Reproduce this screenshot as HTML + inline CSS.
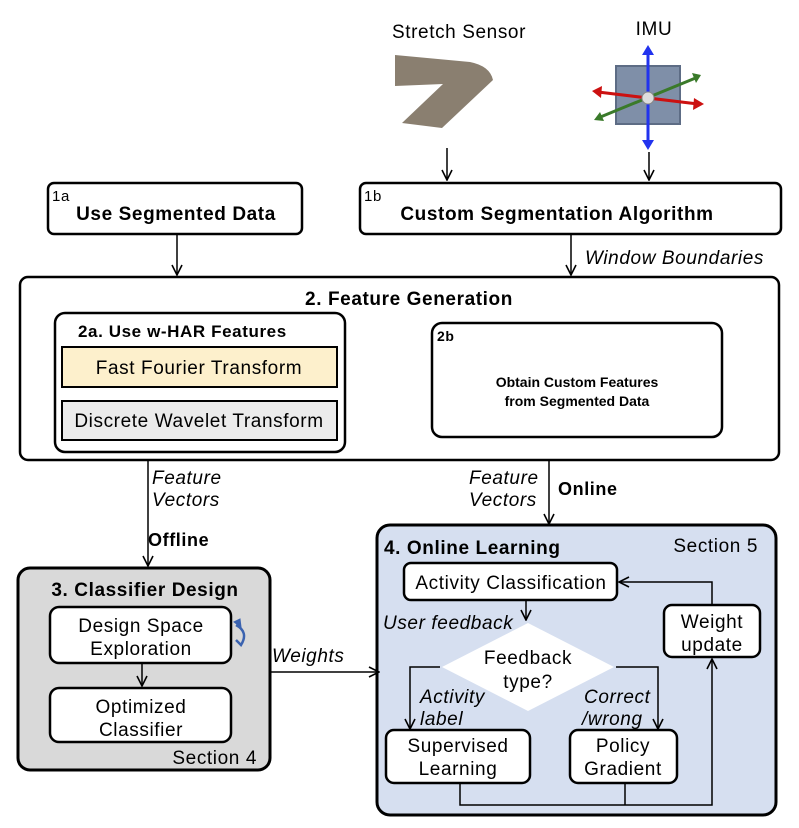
<!DOCTYPE html>
<html><head><meta charset="utf-8"><style>
html,body{margin:0;padding:0;background:#fff;}
svg{display:block;font-family:"Liberation Sans",Arial,sans-serif;}
svg text{letter-spacing:0.6px;}
</style></head><body>
<svg width="799" height="828" viewBox="0 0 799 828" xmlns="http://www.w3.org/2000/svg">
<defs>
<marker id="ah" viewBox="0 0 12 12" refX="11" refY="6" markerWidth="12" markerHeight="12" markerUnits="userSpaceOnUse" orient="auto">
<path d="M1,1 L11,6 L1,11" fill="none" stroke="#000" stroke-width="1.6"/>
</marker>
</defs>
<g fill="none" stroke="#000" stroke-width="1.5">
<!-- sensor images -->
<text x="459" y="38" font-size="19" text-anchor="middle" fill="#000" stroke="none">Stretch Sensor</text>
<path d="M395,55 L470,62 Q490,66 493,80 L442,128 L402,123 L443,84 L395,86 Z" fill="#8a7f70" stroke="none"/>
<text x="654" y="35" font-size="19" text-anchor="middle" fill="#000" stroke="none">IMU</text>
<rect x="616" y="66" width="64" height="58" fill="#7f8fa8" stroke="#5d6c85" stroke-width="2"/>
<line x1="648" y1="50" x2="648" y2="145" stroke="#2233ee" stroke-width="3"/>
<path d="M642,55 L648,45 L654,55 Z M642,140 L648,150 L654,140 Z" fill="#2233ee" stroke="none"/>
<line x1="598" y1="92" x2="698" y2="104" stroke="#cc1111" stroke-width="3"/>
<path d="M602,86 L592,91 L601,98 Z M694,98 L704,104 L693,110 Z" fill="#cc1111" stroke="none"/>
<line x1="598" y1="118" x2="698" y2="77" stroke="#3a7a2a" stroke-width="3"/>
<path d="M600,112 L594,120 L604,121 Z M692,73 L701,75 L696,83 Z" fill="#3a7a2a" stroke="none"/>
<circle cx="648" cy="98" r="6" fill="#ddd" stroke="#888" stroke-width="1"/>
<line x1="447" y1="148" x2="447" y2="180" marker-end="url(#ah)"/>
<line x1="649" y1="152" x2="649" y2="180" marker-end="url(#ah)"/>

<!-- 1a, 1b -->
<rect x="48" y="183" width="254" height="51" rx="6" stroke-width="2.5" fill="#fff"/>
<text x="52" y="201" font-size="15" fill="#000" stroke="none">1a</text>
<text x="176" y="220" font-size="19" font-weight="bold" text-anchor="middle" fill="#000" stroke="none">Use Segmented Data</text>
<rect x="360" y="183" width="421" height="51" rx="6" stroke-width="2.5" fill="#fff"/>
<text x="364" y="201" font-size="15" fill="#000" stroke="none">1b</text>
<text x="557" y="220" font-size="19" font-weight="bold" text-anchor="middle" fill="#000" stroke="none">Custom Segmentation Algorithm</text>
<line x1="177" y1="234" x2="177" y2="275" marker-end="url(#ah)"/>
<line x1="571" y1="234" x2="571" y2="275" marker-end="url(#ah)"/>
<text x="585" y="264" font-size="19" font-style="italic" fill="#000" stroke="none">Window Boundaries</text>

<!-- 2 -->
<rect x="20" y="277" width="759" height="183" rx="8" stroke-width="2.5" fill="#fff"/>
<text x="409" y="305" font-size="19" font-weight="bold" text-anchor="middle" fill="#000" stroke="none">2. Feature Generation</text>
<rect x="55" y="313" width="290" height="139" rx="10" stroke-width="2.5" fill="#fff"/>
<text x="78" y="337" font-size="17" font-weight="bold" fill="#000" stroke="none">2a. Use w-HAR Features</text>
<rect x="62" y="347" width="275" height="40" fill="#fdf0cc" stroke-width="2"/>
<text x="199" y="374" font-size="19" text-anchor="middle" fill="#000" stroke="none">Fast Fourier Transform</text>
<rect x="62" y="401" width="275" height="39" fill="#ebebeb" stroke-width="2"/>
<text x="199" y="427" font-size="19" text-anchor="middle" fill="#000" stroke="none">Discrete Wavelet Transform</text>
<rect x="432" y="323" width="290" height="114" rx="10" stroke-width="2.5" fill="#fff"/>
<text x="437" y="341" font-size="14" font-weight="bold" fill="#000" stroke="none">2b</text>
<text x="577" y="387" font-size="14" font-weight="bold" text-anchor="middle" fill="#000" stroke="none" style="letter-spacing:0">Obtain Custom Features</text>
<text x="577" y="406" font-size="14" font-weight="bold" text-anchor="middle" fill="#000" stroke="none" style="letter-spacing:0">from Segmented Data</text>

<!-- connectors -->
<line x1="148" y1="460" x2="148" y2="566" marker-end="url(#ah)"/>
<text x="152" y="484" font-size="19" font-style="italic" fill="#000" stroke="none">Feature</text>
<text x="152" y="506" font-size="19" font-style="italic" fill="#000" stroke="none">Vectors</text>
<text x="148" y="546" font-size="18" font-weight="bold" fill="#000" stroke="none">Offline</text>
<line x1="549" y1="460" x2="549" y2="524" marker-end="url(#ah)"/>
<text x="469" y="484" font-size="19" font-style="italic" fill="#000" stroke="none">Feature</text>
<text x="469" y="506" font-size="19" font-style="italic" fill="#000" stroke="none">Vectors</text>
<text x="558" y="495" font-size="18" font-weight="bold" fill="#000" stroke="none">Online</text>

<!-- 3 -->
<rect x="18" y="568" width="252" height="202" rx="12" fill="#d9d9d9" stroke-width="3"/>
<text x="145" y="596" font-size="19" font-weight="bold" text-anchor="middle" fill="#000" stroke="none">3. Classifier Design</text>
<rect x="50" y="607" width="181" height="56" rx="9" fill="#fff" stroke-width="2.5"/>
<text x="141" y="632" font-size="19" text-anchor="middle" fill="#000" stroke="none">Design Space</text>
<text x="141" y="655" font-size="19" text-anchor="middle" fill="#000" stroke="none">Exploration</text>
<line x1="142" y1="663" x2="142" y2="686" marker-end="url(#ah)"/>
<rect x="50" y="688" width="181" height="54" rx="9" fill="#fff" stroke-width="2.5"/>
<text x="141" y="713" font-size="19" text-anchor="middle" fill="#000" stroke="none">Optimized</text>
<text x="141" y="736" font-size="19" text-anchor="middle" fill="#000" stroke="none">Classifier</text>
<text x="257" y="764" font-size="19" text-anchor="end" fill="#000" stroke="none">Section 4</text>
<path d="M236,625 Q249,632 241,645 L236,640" stroke="#3b63b0" stroke-width="2.5"/>
<path d="M234,622 L240,619 L241,627 Z" fill="#3b63b0" stroke="#3b63b0" stroke-width="1"/>

<!-- 4 -->
<rect x="377" y="525" width="399" height="290" rx="13" fill="#d6dff0" stroke-width="3"/>
<line x1="270" y1="672" x2="379" y2="672" marker-end="url(#ah)"/>
<text x="272" y="662" font-size="19" font-style="italic" fill="#000" stroke="none">Weights</text>
<text x="384" y="554" font-size="19" font-weight="bold" fill="#000" stroke="none">4. Online  Learning</text>
<text x="758" y="552" font-size="19" text-anchor="end" fill="#000" stroke="none">Section 5</text>
<rect x="404" y="563" width="213" height="37" rx="7" fill="#fff" stroke-width="2.5"/>
<text x="511" y="589" font-size="19" text-anchor="middle" fill="#000" stroke="none">Activity Classification</text>
<line x1="526" y1="600" x2="526" y2="620" marker-end="url(#ah)"/>
<text x="383" y="629" font-size="19" font-style="italic" fill="#000" stroke="none">User feedback</text>
<polygon points="528,623 614,667 528,711 442,667" fill="#fff" stroke="none"/>
<text x="528" y="664" font-size="19" text-anchor="middle" fill="#000" stroke="none">Feedback</text>
<text x="528" y="688" font-size="19" text-anchor="middle" fill="#000" stroke="none">type?</text>
<polyline points="440,667 410,667 410,729" marker-end="url(#ah)"/>
<polyline points="616,667 658,667 658,729" marker-end="url(#ah)"/>
<text x="420" y="703" font-size="19" font-style="italic" fill="#000" stroke="none">Activity</text>
<text x="420" y="725" font-size="19" font-style="italic" fill="#000" stroke="none">label</text>
<text x="584" y="703" font-size="19" font-style="italic" fill="#000" stroke="none">Correct</text>
<text x="582" y="725" font-size="19" font-style="italic" fill="#000" stroke="none">/wrong</text>
<rect x="386" y="730" width="144" height="53" rx="8" fill="#fff" stroke-width="2.5"/>
<text x="458" y="752" font-size="19" text-anchor="middle" fill="#000" stroke="none">Supervised</text>
<text x="458" y="775" font-size="19" text-anchor="middle" fill="#000" stroke="none">Learning</text>
<rect x="570" y="730" width="107" height="53" rx="8" fill="#fff" stroke-width="2.5"/>
<text x="623" y="752" font-size="19" text-anchor="middle" fill="#000" stroke="none">Policy</text>
<text x="623" y="775" font-size="19" text-anchor="middle" fill="#000" stroke="none">Gradient</text>
<rect x="664" y="605" width="96" height="52" rx="8" fill="#fff" stroke-width="2.5"/>
<text x="712" y="628" font-size="19" text-anchor="middle" fill="#000" stroke="none">Weight</text>
<text x="712" y="651" font-size="19" text-anchor="middle" fill="#000" stroke="none">update</text>
<polyline points="712,605 712,582 619,582" marker-end="url(#ah)"/>
<polyline points="460,783 460,805 712,805 712,659" marker-end="url(#ah)"/>
<line x1="625" y1="783" x2="625" y2="805"/>
</g>
</svg>
</body></html>
